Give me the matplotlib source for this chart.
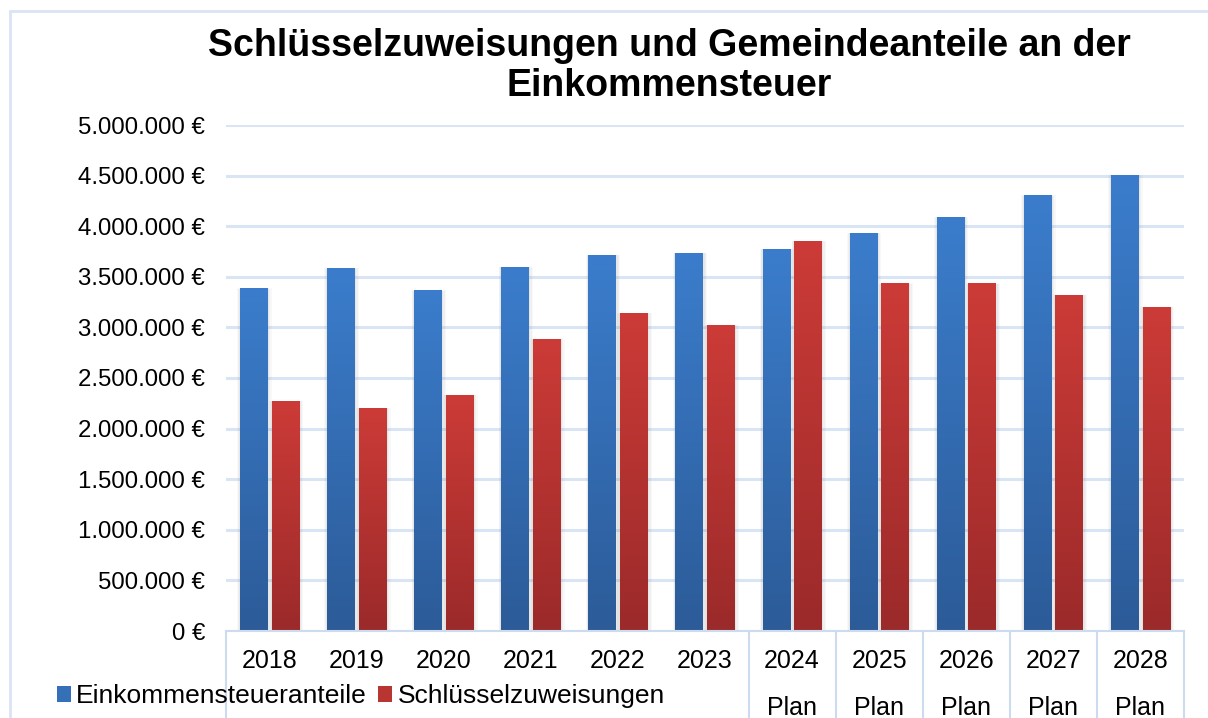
import numpy as np
import matplotlib
matplotlib.use("Agg")
import matplotlib.pyplot as plt
from matplotlib.colors import LinearSegmentedColormap
from matplotlib.patches import Rectangle
from matplotlib.transforms import blended_transform_factory

plt.rcParams['font.family'] = ['Liberation Sans', 'DejaVu Sans']

years = ["2018", "2019", "2020", "2021", "2022", "2023", "2024", "2025", "2026", "2027", "2028"]
phase = ["", "", "", "", "", "", "Plan", "Plan", "Plan", "Plan", "Plan"]
einkommensteueranteile = [3380000, 3580000, 3360000, 3590000, 3715000, 3735000,
                          3770000, 3930000, 4090000, 4300000, 4505000]
schluesselzuweisungen = [2270000, 2200000, 2330000, 2885000, 3140000, 3020000,
                         3850000, 3430000, 3430000, 3320000, 3200000]
series_names = ["Einkommensteueranteile", "Schlüsselzuweisungen"]
y_ticks = [0, 500000, 1000000, 1500000, 2000000, 2500000, 3000000, 3500000,
           4000000, 4500000, 5000000]
title = "Schlüsselzuweisungen und Gemeindeanteile an der\nEinkommensteuer"

W, H = 1208, 718
fig = plt.figure(figsize=(W / 100, H / 100), dpi=100)
ax = fig.add_axes([226 / W, 1 - 631 / H, (1184 - 226) / W, (631 - 125) / H])

blue_cmap = LinearSegmentedColormap.from_list("b", ["#2c5b98", "#3b7dcc"])
red_cmap = LinearSegmentedColormap.from_list("r", ["#9b2a2a", "#cc3b37"])

x = np.arange(len(years))
bw = 0.315
off = 0.182
grad = np.linspace(0, 1, 256).reshape(-1, 1)

for vals, dx, cmap, color, name in [
        (einkommensteueranteile, -off, blue_cmap, "#3470b8", series_names[0]),
        (schluesselzuweisungen, off, red_cmap, "#b83532", series_names[1])]:
    bars = ax.bar(x + dx, vals, bw, color=color, zorder=3, label=name)
    for p in bars:
        bx, by, bwid, bh = p.get_x(), p.get_y(), p.get_width(), p.get_height()
        # soft shadow
        for k, a in [(0.05, 0.05), (0.035, 0.06), (0.02, 0.08)]:
            ax.add_patch(Rectangle((bx - k * 0.6, by), bwid + k * 1.6, bh + k * 250000 * 0.4,
                                   facecolor="#808080", alpha=a, edgecolor="none", zorder=2.5))
        ax.imshow(grad, extent=[bx, bx + bwid, by, by + bh], origin="lower",
                  aspect="auto", cmap=cmap, zorder=3.5, interpolation="bicubic")

ax.set_xlim(-0.5, len(years) - 0.5)
ax.set_ylim(0, 5000000)
ax.set_yticks(y_ticks)
ax.set_yticklabels([f"{v:,.0f}".replace(",", ".") + " €" for v in y_ticks], fontsize=17.3)
ax.tick_params(axis="y", length=0, pad=15)
ax.set_xticks(x)
ax.set_xticklabels([f"{y}\n{p}" if p else y for y, p in zip(years, phase)],
                   fontsize=18, linespacing=2.2, va="top")
ax.tick_params(axis="x", length=0, pad=13)
for lbl in ax.get_xticklabels():
    lbl.set_verticalalignment("top")

ax.yaxis.grid(True, color="#d9e5f5", linewidth=2.2, zorder=0)
ax.set_axisbelow(True)
for s in ["top", "right", "left"]:
    ax.spines[s].set_visible(False)
ax.spines["bottom"].set_color("#cddbef")
ax.spines["bottom"].set_linewidth(1.5)
ax.spines["bottom"].set_zorder(4)

trans = blended_transform_factory(ax.transData, ax.transAxes)
for xb in [-0.5, 5.5, 6.5, 7.5, 8.5, 9.5, 10.5]:
    ax.plot([xb, xb], [0, -0.25], transform=trans, color="#cddbef", lw=1.5,
            clip_on=False, zorder=1)

fig.text(669 / W, 1 - 66 / H, title, ha="center", va="center", fontsize=27,
         fontweight="bold", linespacing=1.15)

handles, labels = ax.get_legend_handles_labels()
fig.legend(handles, labels, loc="center left", bbox_to_anchor=(46 / W, 1 - 696 / H),
           ncol=2, frameon=False, fontsize=19, handlelength=0.55, handleheight=0.55,
           handletextpad=0.2, columnspacing=0.4, borderaxespad=0)

fig.patches.append(Rectangle((10 / W, -0.1), 1.2, 1 - 11 / H + 0.1, transform=fig.transFigure,
                             fill=False, edgecolor="#d9e4f5", linewidth=2, zorder=-1))

fig.savefig("out.png", dpi=100)
